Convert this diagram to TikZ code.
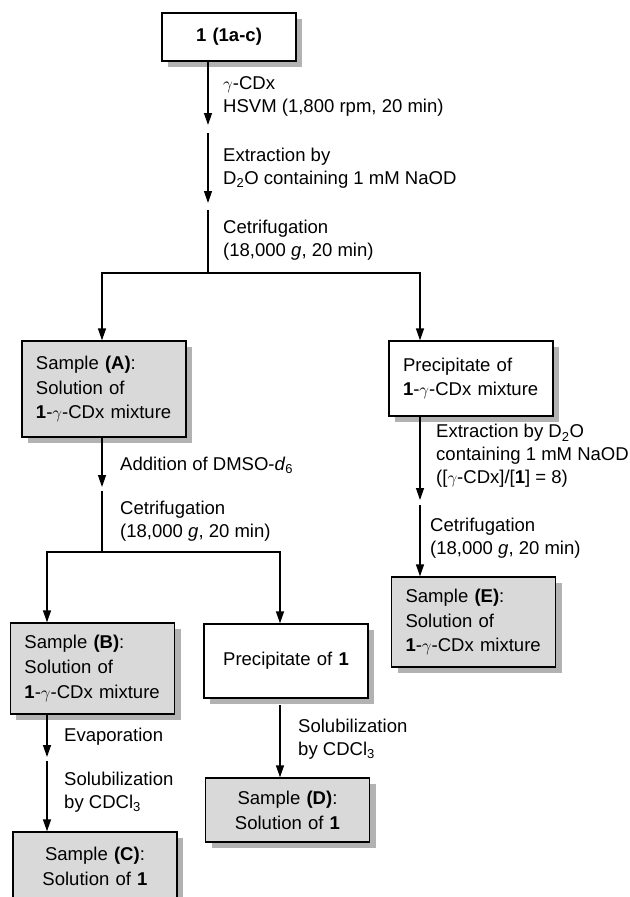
\documentclass[tikz,border=0pt]{standalone}
\usepackage{fontspec}
\setmainfont{Liberation Sans}
\usepackage{tikz}
\usetikzlibrary{arrows.meta,shadows}
\definecolor{samplegray}{gray}{0.85}
\definecolor{shadowgray}{gray}{0.7}

\begin{document}
\begin{tikzpicture}[x=1bp, y=-1bp, font=\fontsize{18.6}{23}\selectfont,
	box/.style={draw, line width=1.3bp, fill=white, inner ysep=0pt, inner xsep=14bp, text width=136bp, align=left, font=\fontsize{18.6}{25}\selectfont, general shadow={fill=shadowgray, shadow xshift=6bp, shadow yshift=-6bp}},
	samplebox/.style={box, fill=samplegray},
	lbl/.style={anchor=west, align=left, inner sep=0pt},
	arr/.style={-{Triangle[length=12bp,width=8bp]}, line width=1.3bp},
	conn/.style={line width=1.3bp}]
	\useasboundingbox (0,0) rectangle (630,897);
	\node[box, align=center, text width=106bp, minimum height=48bp, font=\fontsize{18.6}{25}\selectfont\bfseries] (start) at (229,37) {1 (1a-c)};
	\node[samplebox, minimum height=96bp] (A) at (104,389) {Sample \textbf{(A)}:\\Solution of\\\textbf{1}-$\gamma$-CDx mixture};
	\node[box, minimum height=75bp] (P1) at (471,378.5) {Precipitate of\\\textbf{1}-$\gamma$-CDx mixture};
	\node[samplebox, minimum height=91bp] (B) at (92.5,668.5) {Sample \textbf{(B)}:\\Solution of\\\textbf{1}-$\gamma$-CDx mixture};
	\node[box, align=center, minimum height=74bp] (P2) at (286,661) {Precipitate of \textbf{1}};
	\node[samplebox, align=center, minimum height=64bp] (D) at (287.5,810) {Sample \textbf{(D)}:\\Solution of \textbf{1}};
	\node[samplebox, minimum height=90bp] (E) at (473.5,622) {Sample \textbf{(E)}:\\Solution of\\\textbf{1}-$\gamma$-CDx mixture};
	\node[samplebox, align=center, minimum height=68bp] (C) at (95,866) {Sample \textbf{(C)}:\\Solution of \textbf{1}};
	\coordinate (m1) at (208,125);
	\coordinate (m2) at (208,133);
	\coordinate (m3) at (208,203);
	\coordinate (m4) at (208,210);
	\coordinate (m5) at (208,273);
	\coordinate (sl) at (102,273);
	\coordinate (sr) at (420,273);
	\draw[arr] (start.south -| m1) -- (m1);
	\draw[arr] (m2) -- (m3);
	\draw[conn] (m4) -- (m5);
	\draw[arr] (m5) -- (sl) -- (sl |- A.north);
	\draw[arr] (m5) -- (sr) -- (sr |- P1.north);
	\node[lbl] (l1) at (223,96) {$\gamma$-CDx\\HSVM (1,800 rpm, 20 min)};
	\node[lbl] (l2) at (223,168) {Extraction by\\D\textsubscript{2}O containing 1 mM NaOD};
	\node[lbl] (l3) at (223,240) {Cetrifugation\\(18,000 \textit{g}, 20 min)};
	\coordinate (a1) at (102,487);
	\coordinate (a2) at (102,491);
	\coordinate (a3) at (102,552);
	\coordinate (bl) at (47,552);
	\coordinate (br) at (280,552);
	\draw[arr] (A.south -| a1) -- (a1);
	\draw[conn] (a2) -- (a3);
	\draw[arr] (a3) -- (bl) -- (bl |- B.north);
	\draw[arr] (a3) -- (br) -- (br |- P2.north);
	\node[lbl] (l4) at (120,465) {Addition of DMSO-\textit{d}\textsubscript{6}};
	\node[lbl] (l5) at (120,521) {Cetrifugation\\(18,000 \textit{g}, 20 min)};
	\coordinate (b1) at (47,757);
	\coordinate (b2) at (47,761);
	\draw[arr] (B.south -| b1) -- (b1);
	\draw[arr] (b2) -- (b2 |- C.north);
	\node[lbl] (l6) at (64,737) {Evaporation};
	\node[lbl] (l7) at (64,792) {Solubilization\\by CDCl\textsubscript{3}};
	\coordinate (p1) at (280,705);
	\draw[arr] (p1) -- (p1 |- D.north);
	\node[lbl] (l8) at (298,739) {Solubilization\\by CDCl\textsubscript{3}};
	\coordinate (r1) at (420,500);
	\coordinate (r2) at (420,505);
	\draw[arr] (P1.south -| r1) -- (r1);
	\draw[arr] (r2) -- (r2 |- E.north);
	\node[lbl] (l9) at (436,456) {Extraction by D\textsubscript{2}O\\containing 1 mM NaOD\\([$\gamma$-CDx]/[\textbf{1}] = 8)};
	\node[lbl] (l10) at (430,538) {Cetrifugation\\(18,000 \textit{g}, 20 min)};
\end{tikzpicture}
\end{document}
